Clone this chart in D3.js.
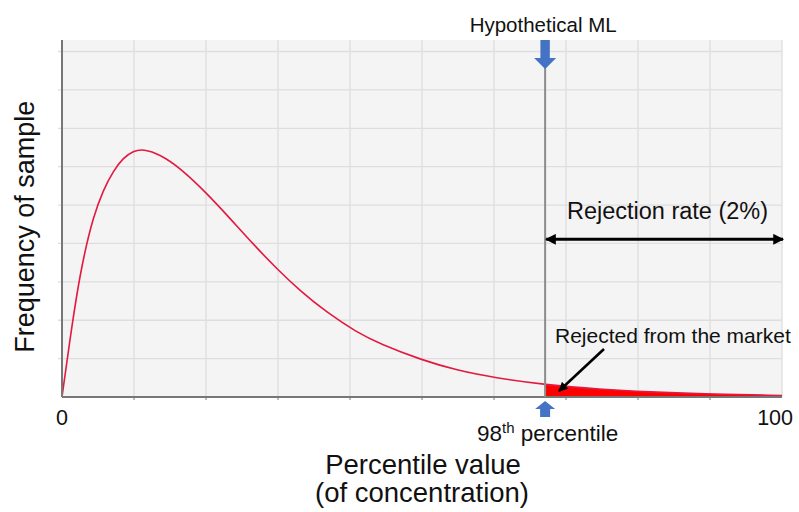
<!DOCTYPE html>
<html>
<head>
<meta charset="utf-8">
<script src="https://cdn.jsdelivr.net/npm/d3@7/dist/d3.min.js"></script>
<style>
  html, body { margin: 0; padding: 0; background: #ffffff; }
  svg { display: block; }
  text { font-family: "Liberation Sans", Arial, sans-serif; fill: #111; }
</style>
</head>
<body>
<div id="chart"></div>
<script>
// ---- data ----
const percentiles = [0, 1.1, 2.0, 3.0, 4.35, 5.75, 7.1, 8.5, 9.9, 11.3, 13.6, 16.4, 20.1, 23.3, 26.6, 30.0, 33.1, 36.8, 40.9, 44.2, 50.0, 54.8, 60.1, 67.1, 74.7, 81.7, 88.6, 100];
const frequency   = [0, 1.49, 2.62, 3.66, 4.70, 5.40, 5.88, 6.23, 6.41, 6.46, 6.32, 5.97, 5.31, 4.66, 3.97, 3.31, 2.76, 2.20, 1.69, 1.38, 0.96, 0.70, 0.50, 0.32, 0.20, 0.13, 0.083, 0.04];
const xTickLabels = ["0", "100"];
const xTickValues = [0, 100];
const mlValue = 67.1;          // position of the hypothetical ML / 98th percentile
const yMax = 9.3;
const yGridValues = [1, 2, 3, 4, 5, 6, 7, 8, 9];
const xGridValues = [10, 20, 30, 40, 50, 60, 70, 80, 90, 100];

const W = 799, H = 512;
const margin = { left: 62, right: 17, top: 40, bottom: 115 };

const svg = d3.select("#chart").append("svg")
  .attr("width", W).attr("height", H);

const x = d3.scaleLinear().domain([0, 100]).range([margin.left, W - margin.right]);
const y = d3.scaleLinear().domain([0, yMax]).range([H - margin.bottom, margin.top]);

const x0 = x(0), x1 = x(100), yTop = y(yMax), yBot = y(0);

// plot background
svg.append("rect")
  .attr("x", x0).attr("y", yTop)
  .attr("width", x1 - x0).attr("height", yBot - yTop)
  .attr("fill", "#f4f4f4");

// grid lines
svg.append("g").selectAll("line").data(yGridValues).join("line")
  .attr("x1", x0 - 4).attr("x2", x1)
  .attr("y1", d => y(d)).attr("y2", d => y(d))
  .attr("stroke", "#dedede").attr("stroke-width", 1.3);
svg.append("g").selectAll("line").data(xGridValues).join("line")
  .attr("x1", d => x(d)).attr("x2", d => x(d))
  .attr("y1", yTop).attr("y2", yBot)
  .attr("stroke", "#dedede").attr("stroke-width", 1.3);

// bottom tick marks
svg.append("g").selectAll("line").data(xGridValues.slice(0, 9)).join("line")
  .attr("x1", d => x(d)).attr("x2", d => x(d))
  .attr("y1", yBot).attr("y2", yBot + 3)
  .attr("stroke", "#777").attr("stroke-width", 1);

const pts = percentiles.map((p, i) => [p, frequency[i]]);

// rejected area (tail beyond ML)
const tail = pts.filter(d => d[0] >= mlValue);
const area = d3.area()
  .x(d => x(d[0])).y0(y(0)).y1(d => y(d[1]))
  .curve(d3.curveBasis);
svg.append("path").datum(tail)
  .attr("d", area)
  .attr("fill", "#ff0000");

// curve
const line = d3.line()
  .x(d => x(d[0])).y(d => y(d[1]))
  .curve(d3.curveBasis);
svg.append("path").datum(pts)
  .attr("d", line)
  .attr("fill", "none")
  .attr("stroke", "#e3193f")
  .attr("stroke-width", 1.6);

// axes lines
svg.append("line")
  .attr("x1", x0).attr("x2", x0).attr("y1", yTop).attr("y2", yBot)
  .attr("stroke", "#777").attr("stroke-width", 2);
svg.append("line")
  .attr("x1", x0).attr("x2", x1).attr("y1", yBot).attr("y2", yBot)
  .attr("stroke", "#777").attr("stroke-width", 2);

// ML vertical line
const xm = x(mlValue);
svg.append("line")
  .attr("x1", xm).attr("x2", xm).attr("y1", yTop).attr("y2", yBot)
  .attr("stroke", "#8c8c8c").attr("stroke-width", 2);

// blue arrows
const blue = "#4472c4";
svg.append("path")
  .attr("d", `M${xm-4.7},${yTop} L${xm+4.7},${yTop} L${xm+4.7},${yTop+18} L${xm+11},${yTop+18} L${xm},${yTop+29} L${xm-11},${yTop+18} L${xm-4.7},${yTop+18} Z`)
  .attr("fill", blue);
svg.append("path")
  .attr("d", `M${xm},${yBot+4} L${xm+10},${yBot+12} L${xm+5},${yBot+12} L${xm+5},${yBot+20} L${xm-5},${yBot+20} L${xm-5},${yBot+12} L${xm-10},${yBot+12} Z`)
  .attr("fill", blue);

// arrow markers
const defs = svg.append("defs");
defs.append("marker").attr("id", "ah")
  .attr("viewBox", "0 0 10 10").attr("refX", 9).attr("refY", 5)
  .attr("markerWidth", 4.5).attr("markerHeight", 3.6).attr("orient", "auto-start-reverse")
  .attr("markerUnits", "strokeWidth")
  .append("path").attr("d", "M0,0 L10,5 L0,10 Z").attr("fill", "#000");

// double arrow: rejection rate
const yArrow = 239.3;
svg.append("line")
  .attr("x1", xm + 1).attr("x2", x1 + 1)
  .attr("y1", yArrow).attr("y2", yArrow)
  .attr("stroke", "#000").attr("stroke-width", 3)
  .attr("marker-start", "url(#ah)").attr("marker-end", "url(#ah)");

// annotation arrow
svg.append("line")
  .attr("x1", 604).attr("y1", 349)
  .attr("x2", 559).attr("y2", 391)
  .attr("stroke", "#000").attr("stroke-width", 2.6)
  .attr("marker-end", "url(#ah)");

// texts
svg.append("text").attr("x", xm - 2).attr("y", 32)
  .attr("text-anchor", "middle").attr("font-size", 20.5)
  .text("Hypothetical ML");

svg.append("text").attr("x", 667.5).attr("y", 219.3)
  .attr("text-anchor", "middle").attr("font-size", 23.5)
  .text("Rejection rate (2%)");

svg.append("text").attr("x", 555).attr("y", 342.7)
  .attr("text-anchor", "start").attr("font-size", 21)
  .text("Rejected from the market");

// x tick labels
svg.append("text").attr("x", x(xTickValues[0])).attr("y", 425)
  .attr("text-anchor", "middle").attr("font-size", 21.5)
  .text(xTickLabels[0]);
svg.append("text").attr("x", x(xTickValues[1]) + 11).attr("y", 425)
  .attr("text-anchor", "end").attr("font-size", 21.5)
  .text(xTickLabels[1]);

// 98th percentile
const t98 = svg.append("text").attr("x", 477).attr("y", 441)
  .attr("text-anchor", "start").attr("font-size", 22.5);
t98.append("tspan").text("98");
t98.append("tspan").attr("font-size", 15).attr("dy", -8).text("th");
t98.append("tspan").attr("dy", 8).text(" percentile");

// axis titles
svg.append("text").attr("x", 423).attr("y", 474)
  .attr("text-anchor", "middle").attr("font-size", 27.5)
  .text("Percentile value");
svg.append("text").attr("x", 422).attr("y", 502)
  .attr("text-anchor", "middle").attr("font-size", 27.5)
  .text("(of concentration)");

svg.append("text")
  .attr("transform", `translate(33.5, 226.7) rotate(-90)`)
  .attr("text-anchor", "middle").attr("font-size", 27)
  .text("Frequency of sample");
</script>
</body>
</html>
